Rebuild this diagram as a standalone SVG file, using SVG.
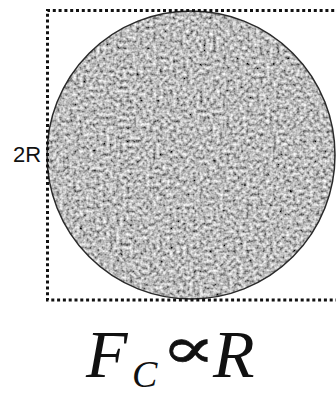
<svg xmlns="http://www.w3.org/2000/svg" width="336" height="396" viewBox="0 0 336 396">
  <style>
    .frame { fill: none; stroke: #111; stroke-width: 3; stroke-dasharray: 3 2.8; }
    .disc { fill: #999; }
    .rim { fill: none; stroke: #2a2a2a; stroke-width: 1.5; }
    .lbl { font-family: "Liberation Sans", Arial, sans-serif; font-size: 22px; fill: #111; }
    .eq { font-family: "Liberation Serif", "Times New Roman", serif; font-style: italic; fill: #111; }
    .sym { font-family: "DejaVu Serif", "Liberation Serif", serif; fill: #111; }
  </style>
  <defs>
    <filter id="granite" x="-5%" y="-5%" width="110%" height="110%">
      <feTurbulence type="fractalNoise" baseFrequency="0.3" numOctaves="2" seed="11" result="t"/>
      <feColorMatrix in="t" type="matrix" values="1.4 0 0 0 -0.2  1.4 0 0 0 -0.2  1.4 0 0 0 -0.2  0 0 0 0 1" result="g"/>
      <feComposite in="g" in2="SourceGraphic" operator="in"/>
    </filter>
  </defs>
  <rect width="336" height="396" fill="#fff"/>
  <g id="particle">
    <circle class="disc" cx="191" cy="155" r="144" filter="url(#granite)"/>
    <circle class="rim" cx="191" cy="155" r="144"/>
  </g>
  <g id="box">
    <path class="frame" d="M340 10.5 H47.5 V300 H340"/>
  </g>
  <g id="label-2R">
    <text class="lbl" x="13" y="162">2R</text>
  </g>
  <g id="formula">
    <text class="eq" x="86" y="377" font-size="68">F</text>
    <text class="eq" x="132" y="387" font-size="38">C</text>
    <text class="sym" transform="translate(161 368) scale(1.4 1)" x="0" y="0" font-size="58" stroke="#111" stroke-width="0.6">∝</text>
    <text class="eq" x="213" y="377" font-size="68">R</text>
  </g>
</svg>
